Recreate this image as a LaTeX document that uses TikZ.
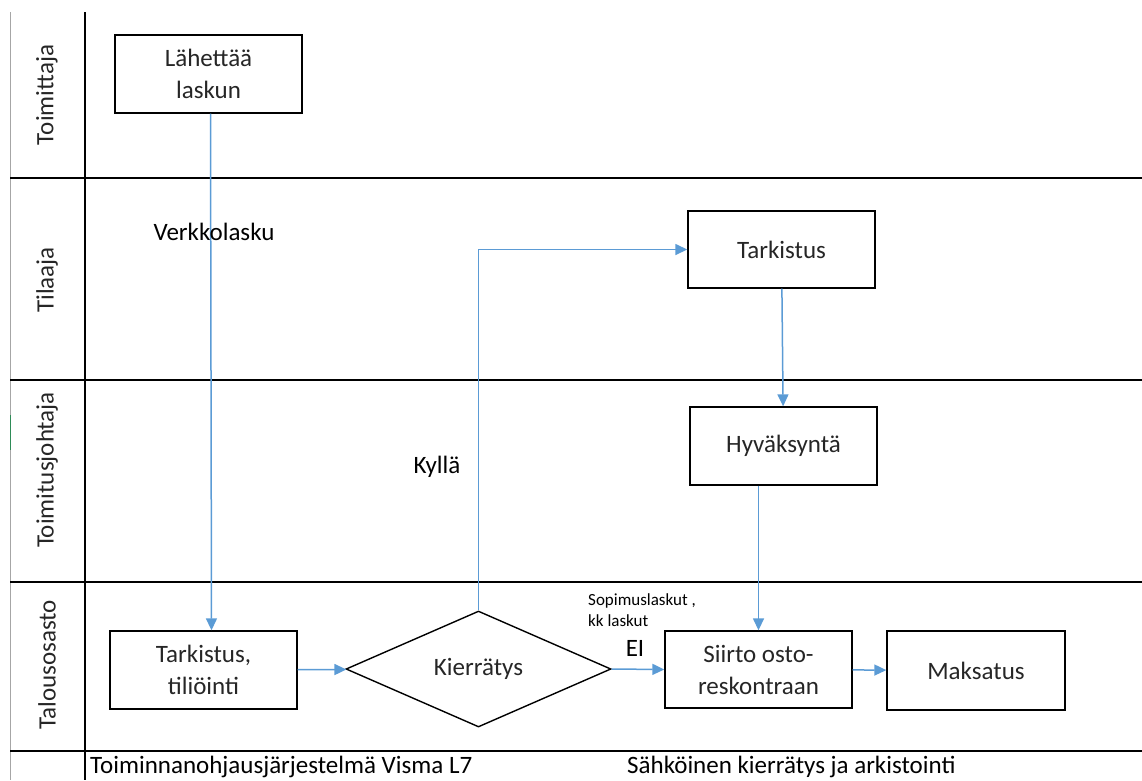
\documentclass[tikz,border=0pt]{standalone}
\usepackage{fontspec}
\setmainfont{Carlito}
\usepackage{tikz}
\usetikzlibrary{arrows.meta,positioning,shapes.geometric}
\usepackage{xcolor}
\definecolor{FlowBlue}{HTML}{5B9BD5}
\definecolor{LaneGrey}{HTML}{A6A6A6}
\definecolor{TextDark}{HTML}{262626}
\definecolor{MarkGreen}{HTML}{2E8B57}
\tikzset{
  stepbox/.style={draw=black,fill=white,line width=1.4pt,minimum width=187pt,minimum height=78pt,align=center,inner sep=2pt,text=TextDark,font=\fontsize{25}{32}\selectfont},
  decision/.style={draw=black,fill=white,line width=1.4pt,diamond,minimum width=265pt,minimum height=116pt,inner sep=0pt,text=TextDark,font=\fontsize{25}{32}\selectfont},
  flow/.style={-{Triangle[length=12pt,width=11pt]},line width=1.5pt,draw=FlowBlue},
  lanelabel/.style={rotate=90,text=TextDark,font=\fontsize{25}{30}\selectfont},
  flowlabel/.style={text=black,font=\fontsize{25}{30}\selectfont},
  smalllabel/.style={text=black,align=left,inner sep=0pt,font=\fontsize{17}{21}\selectfont},
  laneline/.style={draw=black,line width=1.4pt}
}
\begin{document}
\begin{tikzpicture}[x=1pt,y=-1pt]
\useasboundingbox (0,0) rectangle (1142,780);
\draw[LaneGrey,line width=1pt] (10,12) -- (10,780);
\draw[MarkGreen,line width=1pt] (10,415) -- (10,450);
\draw[laneline] (85,12) -- (85,780);
\draw[laneline] (10,178) -- (1142,178);
\draw[laneline] (10,380) -- (1142,380);
\draw[laneline] (10,582) -- (1142,582);
\draw[laneline] (10,751) -- (1142,751);
\node[lanelabel] (lane1) at (47,95) {Toimittaja};
\node[lanelabel] (lane2) at (47,280) {Tilaaja};
\node[lanelabel] (lane3) at (47,470) {Toimitusjohtaja};
\node[lanelabel] (lane4) at (47,665) {Talousosasto};
\node[stepbox] (send) at (208.5,74) {Lähettää\\laskun};
\node[stepbox,minimum height=77pt] (check) at (781.5,249.5) {Tarkistus};
\node[stepbox] (approve) at (783.5,446) {Hyväksyntä};
\node[stepbox] (post) at (203.5,670) {Tarkistus,\\tiliöinti};
\node[decision] (round) at (478.5,669) {Kierrätys};
\node[stepbox,minimum height=77pt] (ledger) at (758.5,669.5) {Siirto osto-\\reskontraan};
\node[stepbox,minimum width=178pt,minimum height=79pt] (pay) at (976,670.5) {Maksatus};
\draw[flow] ([xshift=2pt]send.south) -- ([xshift=8pt]post.north);
\draw[flow] (post) -- (round);
\draw[flow] (round.north) |- (check.west);
\draw[flow] (check) -- (approve);
\draw[flow] (approve.south -| ledger.north) -- (ledger.north);
\draw[flow] (round.east) -- (ledger.west);
\draw[flow] (ledger) -- (pay);
\node[flowlabel] (einvoice) at (214,232) {Verkkolasku};
\node[flowlabel] (yes) at (437,467) {Kyllä};
\node[smalllabel,anchor=west] (contract) at (588,610) {Sopimuslaskut ,\\kk laskut};
\node[flowlabel] (no) at (635,648) {EI};
\node[flowlabel,anchor=base west,inner sep=0pt] (erp) at (90,773) {Toiminnanohjausjärjestelmä Visma L7};
\node[flowlabel,anchor=base west,inner sep=0pt] (archive) at (627,773) {Sähköinen kierrätys ja arkistointi};
\end{tikzpicture}
\end{document}
